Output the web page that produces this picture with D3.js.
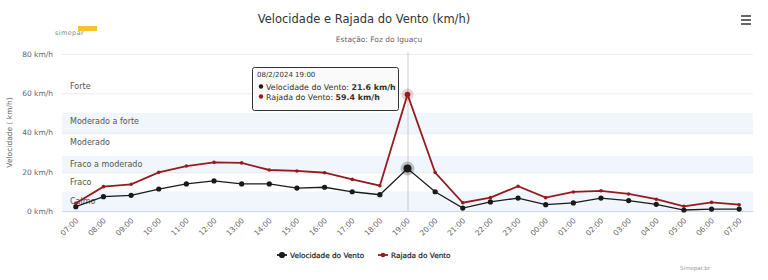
<!DOCTYPE html>
<html>
<head>
<meta charset="utf-8">
<script src="https://cdn.jsdelivr.net/npm/d3@7"></script>
<style>
  html, body { margin: 0; padding: 0; background: #fff; }
  svg { display: block; font-family: "DejaVu Sans", Verdana, sans-serif; }
</style>
</head>
<body>
<div id="chart"></div>
<script>
// horas (07:00 de um dia até 07:00 do seguinte)
const hours = ['07:00','08:00','09:00','10:00','11:00','12:00','13:00','14:00','15:00','16:00',
  '17:00','18:00','19:00','20:00','21:00','22:00','23:00','00:00','01:00','02:00',
  '03:00','04:00','05:00','06:00','07:00'];
const velocidade = [2.2, 7.3, 8.0, 11.2, 13.8, 15.3, 13.8, 13.8, 11.7, 12.1, 9.8, 8.3, 21.6,
  9.8, 1.5, 4.6, 6.6, 3.2, 4.1, 6.6, 5.3, 3.4, 0.5, 1.0, 1.0];
const rajada = [3.9, 12.4, 13.6, 19.7, 22.9, 24.8, 24.5, 20.9, 20.4, 19.5, 16.1, 12.9, 59.4,
  19.6, 4.2, 6.8, 12.6, 6.8, 9.7, 10.3, 8.7, 6.0, 2.4, 4.4, 3.2];
const yTicks = [0, 20, 40, 60, 80];
const bandFrom = [0, 10, 19, 28, 39, 50];
const bandTo   = [10, 19, 28, 39, 50, 68];
const bandLabels = ['Calmo', 'Fraco', 'Fraco a moderado', 'Moderado', 'Moderado a forte', 'Forte'];
const hoverIdx = 12;

const W = 768, H = 280;
const pl = 62, pr = 753, pt = 54, pb = 211;
const colVel = '#1a1a1a', colRaj = '#951b1e';

const svg = d3.select('#chart').append('svg').attr('width', W).attr('height', H);

const x = d3.scaleBand().domain(d3.range(hours.length)).range([pl, pr]);
const cx = i => x(i) + x.bandwidth() / 2;
const y = d3.scaleLinear().domain([0, 80]).range([pb, pt]);

// faixas
const bands = svg.append('g');
bandFrom.forEach((f, i) => {
  if (i % 2 === 0) {
    bands.append('rect')
      .attr('x', pl).attr('width', pr - pl)
      .attr('y', y(bandTo[i])).attr('height', y(f) - y(bandTo[i]))
      .attr('fill', 'rgba(68,140,213,0.08)');
  }
});

// grade
svg.append('g').selectAll('line').data(yTicks).join('line')
  .attr('x1', pl).attr('x2', pr)
  .attr('y1', d => y(d) + 0.5).attr('y2', d => y(d) + 0.5)
  .attr('stroke', '#ececec');

// rótulos das faixas
bands.selectAll('text').data(bandLabels).join('text')
  .attr('x', pl + 8)
  .attr('y', (d, i) => y(bandTo[i]) + (i === 0 ? 13 : 11))
  .attr('font-size', 8).attr('fill', '#555')
  .text(d => d);

// eixo y
const yAxis = svg.append('g').attr('transform', `translate(${pl - 6},0)`)
  .call(d3.axisLeft(y).tickValues(yTicks).tickSize(0).tickFormat(d => d + ' km/h'));
yAxis.select('.domain').remove();
yAxis.selectAll('text').attr('font-size', 7.5).attr('fill', '#666')
  .attr('font-family', '"DejaVu Sans", Verdana, sans-serif').attr('dy', '0.32em');

svg.append('text')
  .attr('transform', `translate(12,${(pt + pb) / 2}) rotate(-90)`)
  .attr('text-anchor', 'middle').attr('font-size', 7.5).attr('fill', '#666')
  .text('Velocidade ( km/h)');

// eixo x
const xAxis = svg.append('g').attr('transform', `translate(0,${pb})`)
  .call(d3.axisBottom(x).tickSize(0).tickFormat(i => hours[i]));
xAxis.select('.domain').attr('stroke', '#ccd6eb');
xAxis.selectAll('text')
  .attr('font-size', 7.5).attr('fill', '#666')
  .attr('font-family', '"DejaVu Sans", Verdana, sans-serif')
  .attr('text-anchor', 'end')
  .attr('dy', 0).attr('y', 0)
  .attr('transform', 'translate(3,10) rotate(-45)');

// crosshair
svg.append('line')
  .attr('x1', cx(hoverIdx) + 0.5).attr('x2', cx(hoverIdx) + 0.5)
  .attr('y1', pt - 2).attr('y2', pb)
  .attr('stroke', '#cccccc').attr('stroke-width', 1);

// séries
const line = d3.line().x((d, i) => cx(i)).y(d => y(d));
svg.append('path').datum(velocidade).attr('d', line)
  .attr('fill', 'none').attr('stroke', colVel).attr('stroke-width', 1.3);
svg.append('path').datum(rajada).attr('d', line)
  .attr('fill', 'none').attr('stroke', colRaj).attr('stroke-width', 1.8);

// halos
svg.append('circle').attr('cx', cx(hoverIdx)).attr('cy', y(velocidade[hoverIdx]))
  .attr('r', 7).attr('fill', 'rgba(0,0,0,0.22)');
svg.append('circle').attr('cx', cx(hoverIdx)).attr('cy', y(rajada[hoverIdx]))
  .attr('r', 6).attr('fill', 'rgba(149,27,30,0.2)');

svg.append('g').selectAll('circle').data(velocidade).join('circle')
  .attr('cx', (d, i) => cx(i)).attr('cy', d => y(d))
  .attr('r', (d, i) => i === hoverIdx ? 4 : 2.6).attr('fill', colVel);
svg.append('g').selectAll('circle').data(rajada).join('circle')
  .attr('cx', (d, i) => cx(i)).attr('cy', d => y(d))
  .attr('r', (d, i) => i === hoverIdx ? 2.8 : 1.8).attr('fill', colRaj);

// título
svg.append('text').attr('x', 364).attr('y', 23).attr('text-anchor', 'middle')
  .attr('font-size', 11.5).attr('fill', '#333')
  .text('Velocidade e Rajada do Vento (km/h)');
svg.append('text').attr('x', 379).attr('y', 42).attr('text-anchor', 'middle')
  .attr('font-size', 7.5).attr('fill', '#666')
  .text('Estação: Foz do Iguaçu');

// logo
svg.append('rect').attr('x', 78).attr('y', 26).attr('width', 19).attr('height', 5).attr('fill', '#f2c230');
svg.append('text').attr('x', 55).attr('y', 35).attr('font-size', 6.5).attr('fill', '#888')
  .attr('letter-spacing', 0.4).text('simepar');

// menu
[0, 4, 8].forEach(d => svg.append('rect')
  .attr('x', 741).attr('y', 15 + d).attr('width', 10).attr('height', 2).attr('fill', '#666'));

// tooltip
const tip = svg.append('g').attr('transform', 'translate(252,67)');
tip.append('rect').attr('x', 0.5).attr('y', 0.5).attr('width', 146).attr('height', 43).attr('rx', 2)
  .attr('fill', 'rgba(250,250,250,0.92)').attr('stroke', '#333').attr('stroke-width', 1);
tip.append('text').attr('x', 5).attr('y', 10).attr('font-size', 7).attr('fill', '#333')
  .text('08/2/2024 ' + hours[hoverIdx]);
[[colVel, 'Velocidade do Vento', velocidade[hoverIdx]], [colRaj, 'Rajada do Vento', rajada[hoverIdx]]]
  .forEach(([c, name, v], k) => {
    tip.append('circle').attr('cx', 9).attr('cy', 19.5 + k * 10).attr('r', 2.2).attr('fill', c);
    const t = tip.append('text').attr('x', 14).attr('y', 22.5 + k * 10).attr('font-size', 7.9).attr('fill', '#333');
    t.append('tspan').text(name + ': ');
    t.append('tspan').attr('font-weight', 'bold').text(v.toFixed(1) + ' km/h');
  });

// legenda
const legend = svg.append('g').attr('transform', 'translate(0,255)');
[[colVel, 'Velocidade do Vento', 277, 2.6], [colRaj, 'Rajada do Vento', 378, 1.8]].forEach(([c, name, lx, r]) => {
  legend.append('line').attr('x1', lx).attr('x2', lx + 10).attr('stroke', c).attr('stroke-width', 1.8);
  legend.append('circle').attr('cx', lx + 5).attr('r', r + 0.5).attr('fill', c);
  legend.append('text').attr('x', lx + 13).attr('y', 3).attr('font-size', 7.3)
    .attr('fill', '#222').attr('stroke', '#222').attr('stroke-width', 0.2).text(name);
});

svg.append('text').attr('x', 710).attr('y', 270).attr('text-anchor', 'end')
  .attr('font-size', 5.5).attr('fill', '#999').text('Simepar.br');
</script>
</body>
</html>
